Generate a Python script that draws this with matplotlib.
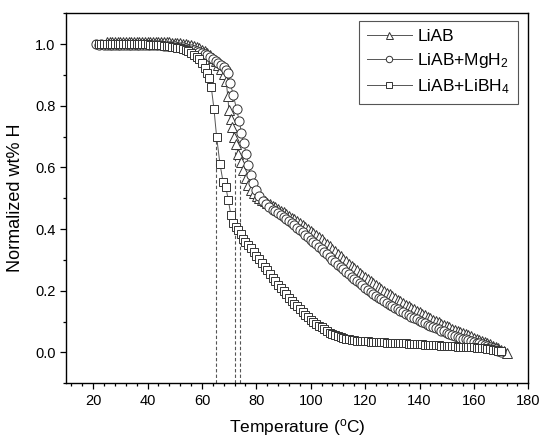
import matplotlib
matplotlib.use("Agg")
import matplotlib.pyplot as plt
from matplotlib.ticker import MultipleLocator

plt.rcParams['font.family'] = ['Liberation Sans', 'DejaVu Sans']
plt.rcParams['mathtext.fontset'] = 'custom'
plt.rcParams['mathtext.rm'] = 'Liberation Sans'
plt.rcParams['mathtext.it'] = 'Liberation Sans:italic'

# ---------------- data ----------------
liab_T = [25, 26, 27, 28, 29, 30, 31, 32, 33, 34, 35, 36, 37, 38, 39, 40, 41, 42, 43, 44,
          45, 46, 47, 48, 49, 50, 51, 52, 53, 54, 55, 56, 57, 58, 59, 60, 61, 62, 63, 64,
          65, 66, 67, 68, 68.9, 69.5, 69.9, 70.5, 71.1, 71.8, 72.4, 73.3, 74.2, 75.2, 76.1,
          77.1, 78.2, 79.2, 80.2, 81, 82, 83, 84, 85, 86, 87, 88, 89, 90, 91, 92, 93, 94, 95,
          96, 97, 98, 99, 100, 101, 102, 103, 104, 105, 106, 107, 108, 109, 110, 111, 112,
          113, 114, 115, 116, 117, 118, 119, 120, 121, 122, 123, 124, 125, 126, 127, 128,
          129, 130, 131, 132, 133, 134, 135, 136, 137, 138, 139, 140, 141, 142, 143, 144,
          145, 146, 147, 148, 149, 150, 151, 152, 153, 154, 155, 156, 157, 158, 159, 160,
          161, 162, 163, 164, 165, 166, 167, 168, 169, 170, 171, 172]
liab_H = [1.005, 1.006, 1.007, 1.007, 1.007, 1.007, 1.007, 1.007, 1.007, 1.007, 1.007, 1.007,
          1.007, 1.006, 1.006, 1.006, 1.006, 1.006, 1.006, 1.006, 1.005, 1.005, 1.005, 1.005,
          1.004, 1.004, 1.003, 1.002, 1.001, 1.000, 0.998, 0.996, 0.993, 0.990, 0.986, 0.982,
          0.977, 0.971, 0.964, 0.955, 0.945, 0.933, 0.918, 0.902, 0.880, 0.830, 0.785, 0.758,
          0.730, 0.700, 0.677, 0.644, 0.617, 0.590, 0.564, 0.542, 0.527, 0.516, 0.507,
          0.501, 0.495, 0.490, 0.485, 0.480, 0.475, 0.470, 0.465, 0.460, 0.455,
          0.449, 0.443, 0.437, 0.431, 0.425, 0.419, 0.413, 0.407, 0.401,
          0.395, 0.388, 0.381, 0.374, 0.367, 0.359, 0.352, 0.344, 0.336, 0.328, 0.320, 0.312,
          0.304, 0.296, 0.288, 0.281, 0.273, 0.266, 0.259, 0.252, 0.245, 0.238, 0.231, 0.225,
          0.218, 0.212, 0.206, 0.200, 0.194, 0.188, 0.182, 0.177, 0.171, 0.166, 0.160, 0.155,
          0.150, 0.145, 0.140, 0.135, 0.130, 0.125, 0.120, 0.116, 0.111, 0.106, 0.102, 0.098,
          0.093, 0.089, 0.085, 0.081, 0.077, 0.073, 0.070, 0.066, 0.062, 0.059, 0.055, 0.052,
          0.048, 0.044, 0.041, 0.037, 0.034, 0.030, 0.026, 0.022, 0.018, 0.013, 0.008, 0.003,
          -0.003]

mgh2_T = [21, 22, 23, 24, 25, 26, 27, 28, 29, 30, 31, 32, 33, 34, 35, 36, 37, 38, 39, 40,
          41, 42, 43, 44, 45, 46, 47, 48, 49, 50, 51, 52, 53, 54, 55, 56, 57, 58, 59, 60,
          61, 62, 63, 64, 65, 66, 67, 68, 69, 69.5, 70.4, 71.5, 72.7, 73.7, 74.5, 75.3, 76.3,
          77.1, 77.9, 78.8, 79.8, 81, 82.3, 83.5, 84.6, 86, 87, 88, 89, 90, 91, 92, 93, 94,
          95, 96, 97, 98, 99, 100, 101, 102, 103, 104, 105, 106, 107, 108, 109, 110, 111,
          112, 113, 114, 115, 116, 117, 118, 119, 120, 121, 122, 123, 124, 125, 126, 127,
          128, 129, 130, 131, 132, 133, 134, 135, 136, 137, 138, 139, 140, 141, 142, 143,
          144, 145, 146, 147, 148, 149, 150, 151, 152, 153, 154, 155, 156, 157, 158, 159,
          160, 161, 162, 163, 164, 165, 166, 167, 168, 169, 170]
mgh2_H = [1.000, 0.998, 0.999, 0.998, 0.998, 0.998, 0.998, 0.998, 0.998, 0.997, 0.997, 0.997,
          0.997, 0.997, 0.997, 0.997, 0.997, 0.997, 0.997, 0.997, 0.996, 0.996, 0.996, 0.996,
          0.996, 0.995, 0.995, 0.995, 0.994, 0.993, 0.992, 0.990, 0.989, 0.987, 0.985, 0.983,
          0.981, 0.978, 0.975, 0.971, 0.967, 0.963, 0.958, 0.952, 0.946, 0.940, 0.933, 0.925,
          0.915, 0.905, 0.875, 0.835, 0.790, 0.750, 0.713, 0.680, 0.643, 0.607, 0.575, 0.548,
          0.527, 0.507, 0.492, 0.480, 0.471, 0.463,
          0.458, 0.452, 0.446, 0.440, 0.433, 0.426, 0.419, 0.412, 0.405, 0.398, 0.390, 0.382,
          0.374, 0.366, 0.358, 0.350, 0.342, 0.334, 0.326, 0.318, 0.310, 0.301, 0.293, 0.285,
          0.277, 0.269, 0.261, 0.253, 0.246, 0.238, 0.231, 0.224, 0.217, 0.210, 0.203, 0.197,
          0.190, 0.184, 0.178, 0.172, 0.166, 0.161, 0.155, 0.150, 0.145, 0.140, 0.135, 0.130,
          0.125, 0.120, 0.116, 0.111, 0.107, 0.102, 0.098, 0.094, 0.090, 0.086, 0.082, 0.078,
          0.075, 0.071, 0.068, 0.064, 0.061, 0.058, 0.054, 0.051, 0.048, 0.045, 0.042, 0.040,
          0.037, 0.034, 0.031, 0.029, 0.026, 0.023, 0.020, 0.017, 0.014, 0.011, 0.006, 0.001]

libh4_T = [22, 23, 24, 25, 26, 27, 28, 29, 30, 31, 32, 33, 34, 35, 36, 37, 38, 39, 40, 41,
           42, 43, 44, 45, 46, 47, 48, 49, 50, 51, 52, 53, 54, 55, 56, 57, 58, 59, 60, 61.0,
           61.9, 62.7, 63.4, 64.4, 65.4, 66.6, 67.8, 68.8, 69.7, 70.6, 71.5, 72.5, 73.4, 74.3,
           75.2, 76, 77, 78, 79, 80, 81, 82, 83, 84, 85, 86, 87, 88, 89, 90, 91, 92, 93, 94,
           95, 96, 97, 98, 99, 100, 101, 102, 103, 104, 105, 106, 107, 108, 109, 110, 111,
           112, 113, 114, 115, 116, 117, 118, 119, 120, 121, 122, 123, 124, 125, 126, 127,
           128, 129, 130, 131, 132, 133, 134, 135, 136, 137, 138, 139, 140, 141, 142, 143,
           144, 145, 146, 147, 148, 149, 150, 151, 152, 153, 154, 155, 156, 157, 158, 159,
           160, 161, 162, 163, 164, 165, 166, 167, 168, 169, 170]
libh4_H = [1.000, 1.000, 1.000, 0.999, 0.999, 0.999, 0.999, 0.999, 0.999, 0.999, 0.999, 0.999,
           0.999, 0.999, 0.999, 0.999, 0.999, 0.999, 0.999, 0.998, 0.998, 0.997, 0.997, 0.996,
           0.995, 0.994, 0.993, 0.992, 0.990, 0.988, 0.986, 0.983, 0.980, 0.976, 0.971, 0.965,
           0.958, 0.950, 0.940, 0.922, 0.905, 0.890, 0.862, 0.790, 0.698, 0.612, 0.551, 0.535,
           0.493, 0.447, 0.420, 0.408, 0.396, 0.385, 0.368,
           0.358, 0.348, 0.337, 0.326, 0.314, 0.302, 0.290, 0.278, 0.266, 0.254, 0.242, 0.231,
           0.220, 0.209, 0.198, 0.188, 0.178, 0.168, 0.158, 0.149, 0.140, 0.131, 0.122, 0.114,
           0.106, 0.099, 0.093, 0.087, 0.081, 0.075, 0.069, 0.064, 0.059, 0.055, 0.052, 0.049,
           0.046, 0.044, 0.042, 0.041, 0.040,
           0.038, 0.037, 0.037, 0.036, 0.036, 0.035, 0.035, 0.034, 0.034, 0.033, 0.033, 0.032,
           0.032, 0.031, 0.031, 0.030, 0.030, 0.029, 0.029, 0.028, 0.028, 0.027, 0.027, 0.026,
           0.026, 0.025, 0.025, 0.024, 0.024, 0.023, 0.023, 0.022, 0.022, 0.021, 0.021, 0.020,
           0.020, 0.019, 0.019, 0.018, 0.018, 0.017, 0.016, 0.016, 0.015, 0.015, 0.014, 0.013,
           0.011, 0.010, 0.008, 0.007, 0.005, 0.003]

labels = ['LiAB', 'LiAB+MgH$_2$', 'LiAB+LiBH$_4$']
markers = ['^', 'o', 's']

dash_T = [65, 72, 74]
dash_top = [0.70, 0.67, 0.57]

x_ticks = [20, 40, 60, 80, 100, 120, 140, 160, 180]
y_ticks = [0.0, 0.2, 0.4, 0.6, 0.8, 1.0]

# ---------------- figure ----------------
fig = plt.figure(figsize=(5.41, 4.40), dpi=100)
ax = fig.add_axes([0.122, 0.129, 0.9765 - 0.122, 0.970 - 0.129])

edge = '#333333'
ax.vlines(dash_T, -0.1, dash_top, colors='#555555', linestyles=(0, (3, 2)),
          linewidth=0.8, zorder=1)

series = [(liab_T, liab_H), (mgh2_T, mgh2_H), (libh4_T, libh4_H)]
sizes = [7.2, 6.6, 6.2]
for (T, H), lab, mk, ms in zip(series, labels, markers, sizes):
    ax.plot(T, H, color='#555555', linewidth=0.7, marker=mk, markersize=ms,
            markerfacecolor='white', markeredgecolor=edge, markeredgewidth=0.7,
            label=lab, zorder=2)

ax.set_xlim(10, 180)
ax.set_ylim(-0.1, 1.1)
ax.set_xticks(x_ticks)
ax.set_yticks(y_ticks)
ax.set_yticklabels([f'{v:.1f}' for v in y_ticks])
ax.xaxis.set_minor_locator(MultipleLocator(4))
ax.yaxis.set_minor_locator(MultipleLocator(0.1))
ax.tick_params(which='both', direction='out', top=False, right=False,
               labelsize=10.5, width=0.9, colors='black')
ax.tick_params(which='major', length=4)
ax.tick_params(which='minor', length=2.3)
for s in ax.spines.values():
    s.set_linewidth(1.0)

ax.set_xlabel('Temperature ($^{\\rm o}$C)', fontsize=12.5, labelpad=7)
ax.set_ylabel('Normalized wt% H', fontsize=13, labelpad=8)

leg = ax.legend(loc='upper right', bbox_to_anchor=(0.978, 0.979), borderaxespad=0,
                fontsize=12.5, fancybox=False, framealpha=1, edgecolor='#555555',
                handlelength=2.6, handletextpad=0.3, labelspacing=0.42,
                markerscale=0.7, borderpad=0.45)
leg.get_frame().set_linewidth(0.8)

fig.savefig('out.png', dpi=100)
